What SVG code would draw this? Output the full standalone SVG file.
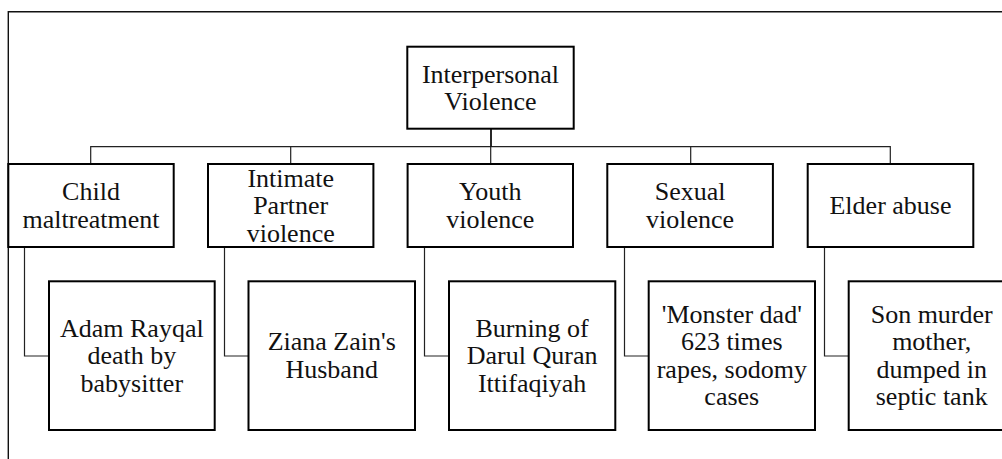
<svg xmlns="http://www.w3.org/2000/svg" width="1002" height="459" viewBox="0 0 1002 459">
<style>
.box{fill:#fff;stroke:#000;stroke-width:2}
text{font-family:"Liberation Serif",serif}
.t{font-size:26px;fill:#111;text-anchor:middle}
.c{fill:none;stroke:#222;stroke-width:1.2}
</style>
<rect width="1002" height="459" fill="#fff"/>
<path d="M8.3 459 V11.7 H1002" fill="none" stroke="#111" stroke-width="1.4"/>
<g id="connectors">
<path class="c" d="M90.7 164 V146.7 H890.3 V164 M290.7 146.7 V164 M490.7 146.7 V164 M690.7 146.7 V164"/>
<path d="M491 128.7 V146.7" stroke="#111" stroke-width="1.8"/>
<path class="c" d="M24.5 247 V356 H49 M224.5 247 V356 H249 M424.5 247 V356 H449 M624.5 247 V356 H649 M824.5 247 V356 H849"/>
</g>
<g font-family="Liberation Serif, serif">
<g id="root"><rect class="box" x="407.3" y="46.7" width="166.4" height="82"/>
<text class="t" x="490.5" y="82.5">Interpersonal</text><text class="t" x="490.5" y="110">Violence</text></g>
<g id="child"><rect class="box" x="8.3" y="164" width="165.4" height="83"/>
<text class="t" x="91" y="200.3">Child</text><text class="t" x="91" y="227.8">maltreatment</text></g>
<g id="intimate"><rect class="box" x="208" y="164" width="165.4" height="83"/>
<text class="t" x="290.7" y="186.5">Intimate</text><text class="t" x="290.7" y="214">Partner</text><text class="t" x="290.7" y="241.5">violence</text></g>
<g id="youth"><rect class="box" x="407.6" y="164" width="165.4" height="83"/>
<text class="t" x="490.3" y="200.3">Youth</text><text class="t" x="490.3" y="227.8">violence</text></g>
<g id="sexual"><rect class="box" x="607.3" y="164" width="165.6" height="83"/>
<text class="t" x="690.1" y="200.3">Sexual</text><text class="t" x="690.1" y="227.8">violence</text></g>
<g id="elder"><rect class="box" x="807.7" y="164" width="165.6" height="83"/>
<text class="t" x="890.5" y="214">Elder abuse</text></g>
<g id="adam"><rect class="box" x="49" y="281.3" width="165.7" height="148.7"/>
<text class="t" x="131.8" y="336.5">Adam Rayqal</text><text class="t" x="131.8" y="364">death by</text><text class="t" x="131.8" y="391.5">babysitter</text></g>
<g id="ziana"><rect class="box" x="248.5" y="281.3" width="166.5" height="148.7"/>
<text class="t" x="331.7" y="350.3">Ziana Zain's</text><text class="t" x="331.7" y="377.8">Husband</text></g>
<g id="burning"><rect class="box" x="449" y="281.3" width="166.3" height="148.7"/>
<text class="t" x="532.1" y="336.5">Burning of</text><text class="t" x="532.1" y="364">Darul Quran</text><text class="t" x="532.1" y="391.5">Ittifaqiyah</text></g>
<g id="monster"><rect class="box" x="648.7" y="281.3" width="166.3" height="148.7"/>
<text class="t" x="731.8" y="322.8">'Monster dad'</text><text class="t" x="731.8" y="350.3">623 times</text><text class="t" x="731.8" y="377.8">rapes, sodomy</text><text class="t" x="731.8" y="405.3">cases</text></g>
<g id="son"><rect class="box" x="848.7" y="281.3" width="166" height="148.7"/>
<text class="t" x="931.7" y="322.8">Son murder</text><text class="t" x="931.7" y="350.3">mother,</text><text class="t" x="931.7" y="377.8">dumped in</text><text class="t" x="931.7" y="405.3">septic tank</text></g>
</g>
</svg>
